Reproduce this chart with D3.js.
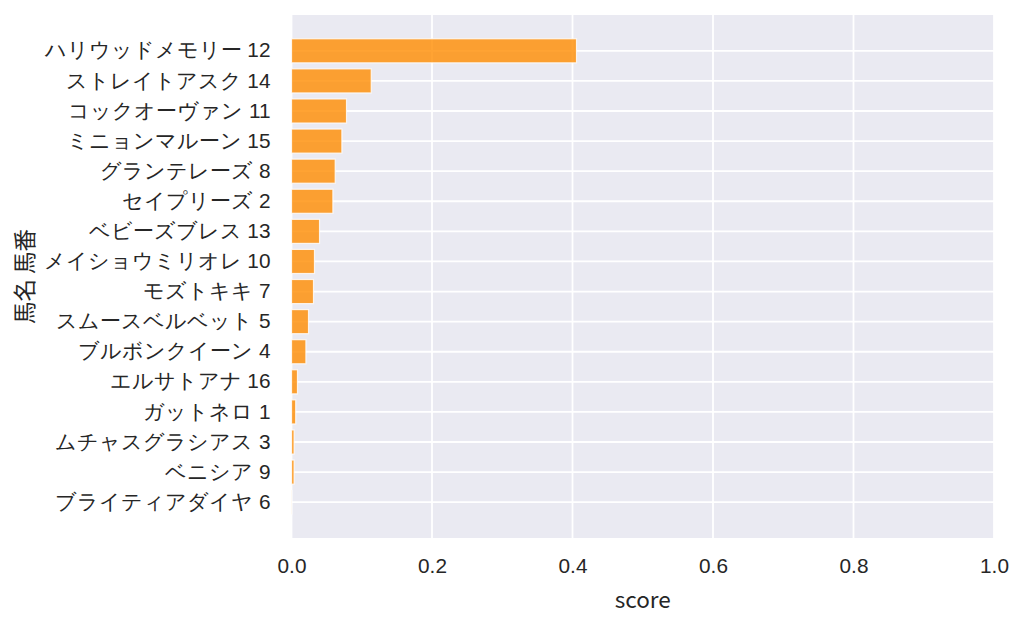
<!DOCTYPE html>
<html>
<head>
<meta charset="utf-8">
<script src="https://cdn.jsdelivr.net/npm/d3@7"></script>
<style>
  body { margin: 0; background: #fff; }
  svg { display: block; font-family: "Noto Sans CJK JP", "Noto Sans", sans-serif; }
  .tick text { fill: #262626; }
</style>
</head>
<body>
<svg class="chart" width="1024" height="627"></svg>
<script>
const horseNames = ["ハリウッドメモリー", "ストレイトアスク", "コックオーヴァン", "ミニョンマルーン",
  "グランテレーズ", "セイプリーズ", "ベビーズブレス", "メイショウミリオレ", "モズトキキ",
  "スムースベルベット", "ブルボンクイーン", "エルサトアナ", "ガットネロ", "ムチャスグラシアス",
  "ベニシア", "ブライティアダイヤ"];
const horseNumbers = [12, 14, 11, 15, 8, 2, 13, 10, 7, 5, 4, 16, 1, 3, 9, 6];
const scores = [0.4057, 0.1135, 0.0783, 0.0717, 0.0622, 0.0589, 0.0399, 0.0327, 0.0313,
  0.0242, 0.0205, 0.0085, 0.006, 0.0037, 0.0037, 0.0004];
const xTicks = [0, 0.2, 0.4, 0.6, 0.8, 1.0];

const margin = { top: 15, right: 30, bottom: 89, left: 291.5 };
const width = 1024 - margin.left - margin.right;
const height = 627 - margin.top - margin.bottom;

const labels = horseNames.map((n, i) => n + " " + horseNumbers[i]);
const data = labels.map((l, i) => ({ label: l, score: scores[i] }));

const svg = d3.select("svg.chart")
  .append("g")
  .attr("transform", "translate(" + margin.left + "," + margin.top + ")");

const x = d3.scaleLinear().domain([0, 1]).range([0, width]);

const y = d3.scaleBand()
  .domain(labels)
  .range([0, height])
  .paddingInner(0.2)
  .paddingOuter(0.79);

// background
svg.append("rect")
  .attr("width", width)
  .attr("height", height)
  .attr("fill", "#eaeaf2");

// grid
svg.append("g")
  .selectAll("line")
  .data(xTicks)
  .enter().append("line")
  .attr("x1", d => x(d))
  .attr("x2", d => x(d))
  .attr("y1", 0)
  .attr("y2", height)
  .attr("stroke", "#fff")
  .attr("stroke-width", 1.8);

svg.append("g")
  .selectAll("line")
  .data(labels)
  .enter().append("line")
  .attr("x1", 0)
  .attr("x2", width)
  .attr("y1", d => y(d) + y.bandwidth() / 2)
  .attr("y2", d => y(d) + y.bandwidth() / 2)
  .attr("stroke", "#fff")
  .attr("stroke-width", 1.8);

// bars
svg.append("g")
  .selectAll("rect")
  .data(data)
  .enter().append("rect")
  .attr("x", 0)
  .attr("y", d => y(d.label))
  .attr("width", d => x(d.score))
  .attr("height", y.bandwidth())
  .attr("fill", "#ff8c00")
  .attr("fill-opacity", 0.8)
  .attr("stroke", "#fff")
  .attr("stroke-opacity", 0.8)
  .attr("stroke-width", 1.2);

// axes
const xAxis = svg.append("g")
  .attr("transform", "translate(0," + height + ")")
  .call(d3.axisBottom(x).tickValues(xTicks).tickFormat(d3.format(".1f")).tickSize(0).tickPadding(20));
xAxis.select(".domain").remove();
xAxis.selectAll("text").style("font-size", "20.8px");

const yAxis = svg.append("g")
  .call(d3.axisLeft(y).tickSize(0).tickPadding(21));
yAxis.select(".domain").remove();
yAxis.selectAll("text").style("font-size", "20.8px");

svg.append("text")
  .attr("x", width / 2)
  .attr("y", height + 70)
  .attr("text-anchor", "middle")
  .attr("fill", "#262626")
  .style("font-size", "22.5px")
  .text("score");

svg.append("text")
  .attr("transform", "rotate(-90)")
  .attr("x", -height / 2)
  .attr("y", -margin.left + 33)
  .attr("text-anchor", "middle")
  .attr("fill", "#262626")
  .style("font-size", "22.5px")
  .text("馬名 馬番");
</script>
</body>
</html>
